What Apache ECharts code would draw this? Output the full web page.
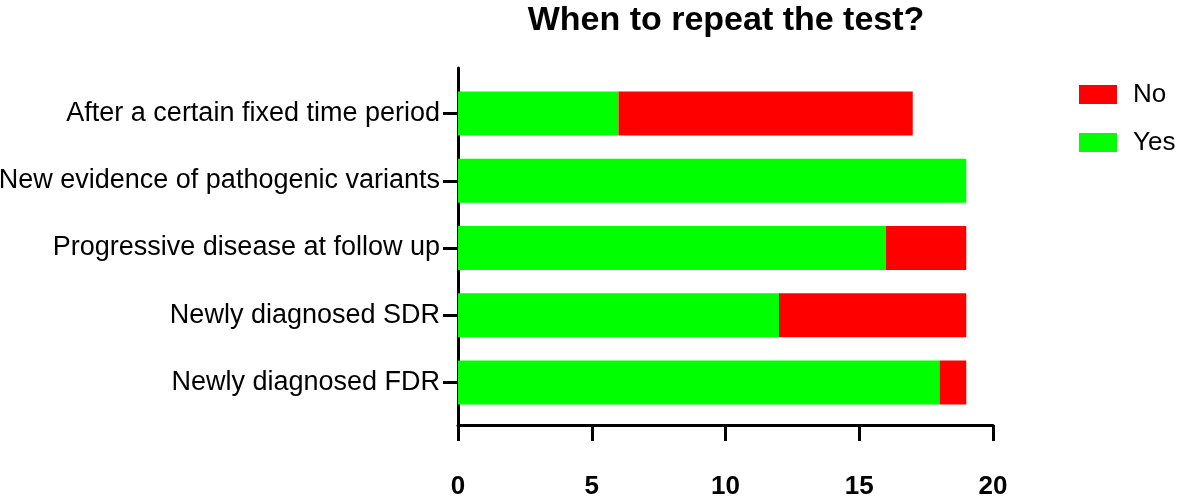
<!DOCTYPE html>
<html><head><meta charset="utf-8">
<script src="https://cdn.jsdelivr.net/npm/echarts@6/dist/echarts.min.js"></script>
<style>html,body{margin:0;padding:0;background:#fff}#c{width:1181px;height:497px}</style>
</head><body><div id="c"></div>
<script>
const categories = ["After a certain fixed time period","New evidence of pathogenic variants","Progressive disease at follow up","Newly diagnosed SDR","Newly diagnosed FDR"];
const yesValues = [6, 19, 16, 12, 18];
const noValues = [11, 0, 3, 7, 1];
const xTicks = [0, 5, 10, 15, 20];

const FONT = 'Liberation Sans, Arial, sans-serif';
const chart = echarts.init(document.getElementById('c'));
const L = 458, R = 1181 - 993;
chart.setOption({
  animation: false,
  title: { text: 'When to repeat the test?', left: 721, textAlign: 'center', top: -1,
    textStyle: { fontFamily: FONT, fontWeight: 'bold', fontSize: 34, color: '#000' } },
  legend: { orient: 'vertical', left: 1074, top: 76.5, itemWidth: 38, itemHeight: 19, itemGap: 22,
    icon: 'rect',
    data: ['No', 'Yes'], textStyle: { fontFamily: FONT, fontSize: 26, color: '#000', padding: [0,0,0,11] } },
  grid: [
    { left: L, right: R, top: 80, height: 336, outerBoundsMode: 'none', containLabel: false },
    { left: L, right: R, top: 68, height: 357, outerBoundsMode: 'none', containLabel: false }
  ],
  xAxis: [
    { gridIndex: 0, type: 'value', min: 0, max: 20, interval: 5, show: false },
    { gridIndex: 1, type: 'value', min: 0, max: 20, interval: 5,
      axisLine: { show: true, lineStyle: { color: '#000', width: 3 } },
      axisTick: { show: true, length: 16, lineStyle: { color: '#000', width: 3 } },
      splitLine: { show: false },
      axisLabel: { fontFamily: FONT, fontWeight: 'bold', fontSize: 26, color: '#000', margin: 49,
        formatter: v => xTicks.includes(v) ? String(v) : '' } }
  ],
  yAxis: [
    { gridIndex: 0, type: 'category', inverse: true, data: categories,
      axisLine: { show: false },
      axisTick: { show: true, alignWithLabel: true, length: 15, inside: false, lineStyle: { color: '#000', width: 3 } },
      axisLabel: { fontFamily: FONT, fontSize: 27, color: '#000', margin: 18 } },
    { gridIndex: 1, type: 'value', min: 0, max: 1, axisLine: { show: true, lineStyle: { color: '#000', width: 3 } },
      axisTick: { show: false }, axisLabel: { show: false }, splitLine: { show: false } }
  ],
  series: [
    { name: 'Yes', type: 'bar', stack: 's', xAxisIndex: 0, yAxisIndex: 0, data: yesValues,
      barWidth: 44, itemStyle: { color: '#00FF00' } },
    { name: 'No', type: 'bar', stack: 's', xAxisIndex: 0, yAxisIndex: 0, data: noValues,
      barWidth: 44, itemStyle: { color: '#FF0000' } }
  ]
});
</script></body></html>
